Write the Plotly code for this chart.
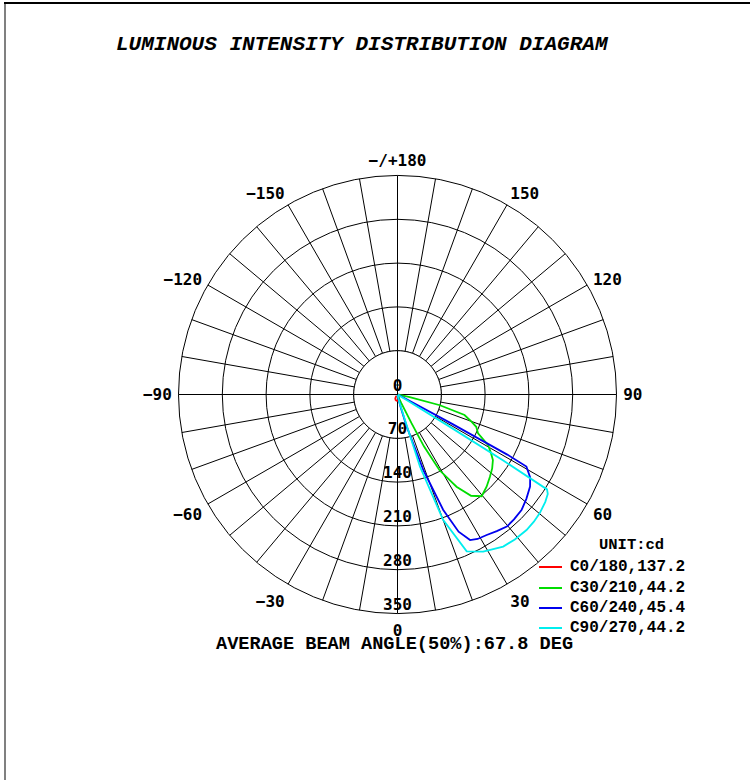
import plotly.graph_objects as go

# ---- data (gamma angle in degrees, intensity in cd) ----
ring_values = [70, 140, 210, 280, 350]
ring_labels = ["0", "70", "140", "210", "280", "350"]
ring_label_r = [0, 70, 140, 210, 280, 350]

angle_ticks = list(range(0, 360, 10))
angle_tick_text = {0: "0", 30: "30", 60: "60", 90: "90", 120: "120", 150: "150",
                   180: "\u2212/+180", 210: "\u2212150", 240: "\u2212120", 270: "\u221290",
                   300: "\u221260", 330: "\u221230"}

c0_theta = [-40, -30, -20, -10, 0, 10, 20, 30]
c0_r = [3, 7, 9, 10, 10, 8, 5, 2]

c30_theta = [0, 10, 20, 24, 26, 27, 29, 32.6, 36, 39.6, 44, 48.2, 52, 55.5, 58, 60.8,
             64.2, 67.7, 70, 73, 75.8, 78, 80, 90]
c30_r = [1, 2, 4, 15, 51, 93, 138, 175, 200, 211, 205, 198, 192, 185, 176, 166,
         143, 136, 125, 112, 70, 20, 5, 1]

c60_theta = [0, 10, 14, 16, 18.9, 21.6, 24, 26.5, 29, 32.4, 36, 39.6, 43, 47, 51, 55.2,
             58, 60.8, 61.3, 61.7, 62, 63, 90]
c60_r = [1, 3, 20, 53, 128, 198, 240, 260, 264, 266, 270, 274, 273, 271, 265, 258,
         250, 236, 200, 100, 30, 3, 1]

c90_theta = [0, 10, 14, 16.3, 17.3, 20, 23.8, 28.6, 34.8, 39, 43.6, 47, 50.2, 54, 56.5,
             57.6, 58.0, 58.3, 58.6, 59.2, 90]
c90_r = [1, 3, 15, 43, 121, 213, 274, 286, 296, 298, 299, 298, 296, 292, 288,
         283, 200, 100, 20, 3, 1]

series_names = ["C0/180,137.2", "C30/210,44.2", "C60/240,45.4", "C90/270,44.2"]
series_colors = ["#ff0000", "#00dd00", "#0000ee", "#00eeee"]

title_text = "LUMINOUS INTENSITY DISTRIBUTION DIAGRAM"
footer_text = "AVERAGE BEAM ANGLE(50%):67.8 DEG"
unit_text = "UNIT:cd"

# ---- figure ----
W, H = 750, 780
cx, cy, R = 397.5, 394.5, 219.0

mono = "Liberation Mono, Courier New, monospace"
sans_mono = "DejaVu Sans Mono, monospace"

fig = go.Figure()

# white inner disk hiding the grid inside the first ring
circ_t = list(range(0, 361, 2))
fig.add_trace(go.Scatterpolar(theta=circ_t, r=[ring_values[0]] * len(circ_t),
                              mode="lines", fill="toself", fillcolor="white",
                              line=dict(color="black", width=1),
                              showlegend=False, hoverinfo="skip"))
# cross lines through centre
for a in [0, 90, 180, 270]:
    fig.add_trace(go.Scatterpolar(theta=[a, a], r=[0, ring_values[0]], mode="lines",
                                  line=dict(color="black", width=1),
                                  showlegend=False, hoverinfo="skip"))

# ring labels
fig.add_trace(go.Scatterpolar(theta=[0] * len(ring_label_r), r=ring_label_r,
                              mode="text", text=ring_labels, textposition="top center",
                              textfont=dict(family=sans_mono, size=16, color="black",
                                            weight="bold"),
                              showlegend=False, hoverinfo="skip"))

for name, color, th, rr in zip(series_names, series_colors,
                               [c0_theta, c30_theta, c60_theta, c90_theta],
                               [c0_r, c30_r, c60_r, c90_r]):
    fig.add_trace(go.Scatterpolar(theta=th, r=rr, mode="lines", name=name,
                                  line=dict(color=color, width=1.8), showlegend=False))

# manual legend (swatch + text)
leg_x0, leg_x1, leg_tx = 539, 562, 568
leg_y = [567, 588, 608, 628]
shapes = [
    dict(type="line", xref="paper", yref="paper", x0=5 / W, x1=5 / W, y0=0, y1=1 - 3 / H,
         line=dict(color="#808080", width=2)),
    dict(type="line", xref="paper", yref="paper", x0=4 / W, x1=1, y0=1 - 3 / H, y1=1 - 3 / H,
         line=dict(color="black", width=2)),
]
annotations = [
    dict(text=title_text, x=362 / W, y=1 - 44 / H, xref="paper", yref="paper",
         showarrow=False, xanchor="center", yanchor="middle",
         font=dict(family=mono, size=21, color="black", weight="bold", style="italic")),
    dict(text=footer_text, x=395 / W, y=1 - 644 / H, xref="paper", yref="paper",
         showarrow=False, xanchor="center", yanchor="middle",
         font=dict(family=mono, size=18.6, color="black", weight="bold")),
    dict(text=unit_text, x=631 / W, y=1 - 545 / H, xref="paper", yref="paper",
         showarrow=False, xanchor="center", yanchor="middle",
         font=dict(family=mono, size=15.5, color="black", weight="bold")),
]
for name, color, yy in zip(series_names, series_colors, leg_y):
    shapes.append(dict(type="line", xref="paper", yref="paper",
                       x0=leg_x0 / W, x1=leg_x1 / W, y0=1 - yy / H, y1=1 - yy / H,
                       line=dict(color=color, width=2)))
    annotations.append(dict(text=name, x=leg_tx / W, y=1 - yy / H, xref="paper",
                            yref="paper", showarrow=False, xanchor="left",
                            yanchor="middle",
                            font=dict(family=mono, size=16, color="black",
                                      weight="bold")))

fig.update_layout(
    width=W, height=H,
    margin=dict(l=0, r=0, t=0, b=0),
    paper_bgcolor="white",
    showlegend=False,
    polar=dict(
        domain=dict(x=[(cx - R) / W, (cx + R) / W],
                    y=[1 - (cy + R) / H, 1 - (cy - R) / H]),
        bgcolor="white",
        angularaxis=dict(rotation=270, direction="counterclockwise",
                         tickmode="array", tickvals=angle_ticks,
                         ticktext=[angle_tick_text.get(a, "") for a in angle_ticks],
                         ticks="outside", ticklen=3, tickcolor="rgba(0,0,0,0)",
                         showline=True, linecolor="black", linewidth=1,
                         gridcolor="black", gridwidth=1,
                         tickfont=dict(family=sans_mono, size=16, color="black",
                                       weight="bold")),
        radialaxis=dict(range=[0, 350], tickmode="array", tickvals=ring_values,
                        showticklabels=False, ticks="", showline=False,
                        gridcolor="black", gridwidth=1),
    ),
    annotations=annotations,
    shapes=shapes,
)

fig.write_html("out.html", config={"displayModeBar": False},
               post_script="document.body.style.margin='0';"
                           "document.body.style.overflow='hidden';")
